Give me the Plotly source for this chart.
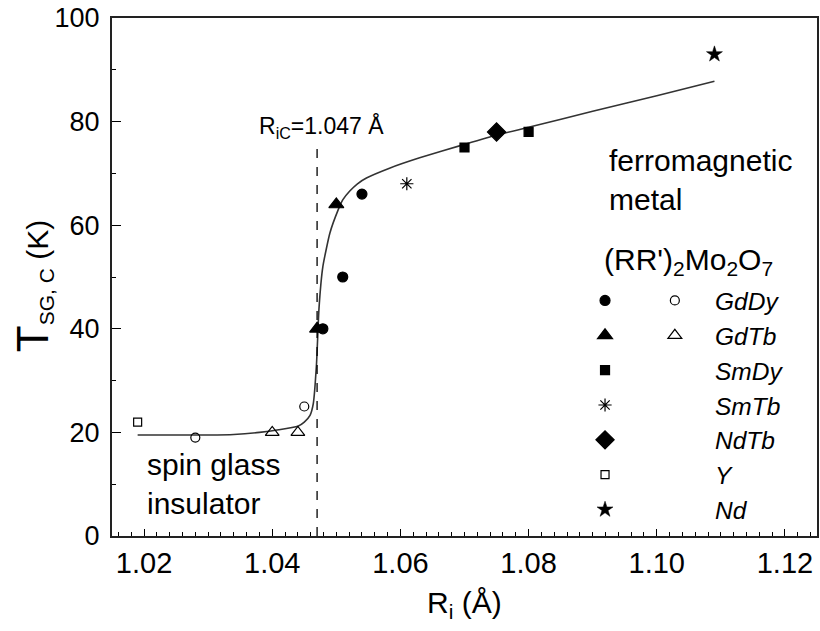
import plotly.graph_objects as go

# ---- data ----
gddy_fill_x = [1.0479, 1.051, 1.054]
gddy_fill_y = [40, 50, 66]
gddy_open_x = [1.028, 1.045]
gddy_open_y = [19, 25]
gdtb_fill_x = [1.047, 1.050]
gdtb_fill_y = [40, 64]
gdtb_open_x = [1.040, 1.044]
gdtb_open_y = [20, 20]
smdy_x = [1.070, 1.080]
smdy_y = [75, 78]
smtb_x = [1.061]
smtb_y = [68]
ndtb_x = [1.075]
ndtb_y = [78]
y_x = [1.019]
y_y = [22]
nd_x = [1.109]
nd_y = [93]

# guide-to-the-eye curve
fit_x = [1.019, 1.025, 1.030, 1.034, 1.038, 1.041, 1.044, 1.045, 1.0459, 1.0464,
         1.0469, 1.0473, 1.0479, 1.049, 1.0503, 1.0510, 1.0521, 1.0533, 1.0547,
         1.0583, 1.063, 1.070, 1.075, 1.080, 1.090, 1.100, 1.109]
fit_y = [19.5, 19.5, 19.5, 19.6, 20.0, 20.5, 21.2, 22.0, 23.3, 25.5,
         33, 44, 52, 58.5, 63, 64.9, 66.6, 68.0, 69.1,
         71.0, 73.0, 75.6, 77.4, 78.9, 82.0, 85.0, 87.8]

R_IC = 1.047
R_IC_TOP = 75

FONT = "Liberation Sans, Arial, sans-serif"


def sz(text, px):
    return "<span style='font-size:%dpx'>%s</span>" % (px, text)


fig = go.Figure()

fig.add_trace(go.Scatter(x=fit_x, y=fit_y, mode="lines",
                         line=dict(color="#333333", width=1.6, shape="spline", smoothing=0.5),
                         showlegend=False, hoverinfo="skip"))


def pts(x, y, name, symbol, size, legend="legend", lw=1.2):
    fig.add_trace(go.Scatter(x=x, y=y, mode="markers", name=name, legend=legend,
                             marker=dict(symbol=symbol, size=size, color="black",
                                         line=dict(color="black", width=lw))))


# first legend column: filled symbols with the compound names
pts(gddy_fill_x, gddy_fill_y, "GdDy", "circle", 10)
pts(gdtb_fill_x, gdtb_fill_y, "GdTb", "triangle-up", 13)
pts(smdy_x, smdy_y, "SmDy", "square", 9)
pts(smtb_x, smtb_y, "SmTb", "asterisk-open", 11)
pts(ndtb_x, ndtb_y, "NdTb", "diamond", 14)
pts(y_x, y_y, "Y", "square-open", 8)
pts(nd_x, nd_y, "Nd", "star", 12, lw=0.5)
# second legend column: open symbols of GdDy and GdTb
pts(gddy_open_x, gddy_open_y, "&nbsp;", "circle-open", 9, legend="legend2")
pts(gdtb_open_x, gdtb_open_y, "&nbsp;", "triangle-up-open", 12, legend="legend2")

fig.add_shape(type="line", xref="x", yref="y", x0=R_IC, x1=R_IC, y0=0, y1=R_IC_TOP,
              line=dict(color="black", width=1.3, dash="dash"))

ann = []
ann.append(dict(x=1.0477, y=79, xref="x", yref="y", showarrow=False, xanchor="center", yanchor="middle",
                text=sz("R", 23) + "<sub>iC</sub>" + sz("=1.047 Å", 23), font=dict(size=23)))
ann.append(dict(x=1.0922, y=68.7, xref="x", yref="y", showarrow=False, xanchor="left", yanchor="middle", align="left",
                text=sz("ferromagnetic", 30) + "<br>" + sz("metal", 30), font=dict(size=30)))
ann.append(dict(x=1.0914, y=52.9, xref="x", yref="y", showarrow=False, xanchor="left", yanchor="middle",
                text=sz("(RR')", 30) + "<sub>2</sub>" + sz("Mo", 30) + "<sub>2</sub>" + sz("O", 30) + "<sub>7</sub>",
                font=dict(size=30)))
ann.append(dict(x=1.0201, y=10.0, xref="x", yref="y", showarrow=False, xanchor="left", yanchor="middle", align="left",
                text=sz("spin glass", 30) + "<br>" + sz("insulator", 30), font=dict(size=30)))
ann.append(dict(x=-0.113, y=0.483, xref="paper", yref="paper", showarrow=False, textangle=-90,
                xanchor="center", yanchor="middle",
                text=sz("T", 44) + "<sub>SG, C</sub>" + sz(" (K)", 30), font=dict(size=30)))
ann.append(dict(x=0.5, y=-0.133, xref="paper", yref="paper", showarrow=False,
                xanchor="center", yanchor="middle",
                text=sz("R", 30) + "<sub>i</sub>" + sz(" (Å)", 30), font=dict(size=30)))

legend_font = dict(family=FONT, size=24.5, color="black", style="italic")

fig.update_layout(
    width=820, height=631,
    margin=dict(l=112, r=3, t=18, b=95, autoexpand=False),
    paper_bgcolor="white", plot_bgcolor="white",
    font=dict(family=FONT, color="black", size=29),
    annotations=ann,
    showlegend=True,
    hovermode=False,
    legend=dict(x=0.5433, y=0.498, xanchor="left", yanchor="top", bgcolor="rgba(0,0,0,0)",
                borderwidth=0, itemwidth=210, font=legend_font, traceorder="normal",
                itemclick=False, itemdoubleclick=False),
    legend2=dict(x=0.770, y=0.498, xanchor="left", yanchor="top", bgcolor="rgba(0,0,0,0)",
                 borderwidth=0, itemwidth=30, font=legend_font, traceorder="normal",
                 itemclick=False, itemdoubleclick=False),
)

fig.update_xaxes(
    range=[1.015, 1.125], tickvals=[1.02, 1.04, 1.06, 1.08, 1.10, 1.12],
    ticktext=["1.02", "1.04", "1.06", "1.08", "1.10", "1.12"],
    ticks="inside", ticklen=7, tickwidth=1.3, tickcolor="black",
    minor=dict(ticks="inside", ticklen=4, dtick=0.002, tick0=1.0, tickcolor="black", tickwidth=1),
    showline=True, linecolor="#222222", linewidth=2, mirror=True, showgrid=False, zeroline=False,
    tickfont=dict(size=29), automargin=False, ticklabeloverflow="allow",
)
fig.update_yaxes(
    range=[0, 100], tickvals=[0, 20, 40, 60, 80, 100],
    ticks="inside", ticklen=9, tickwidth=1.3, tickcolor="black",
    minor=dict(ticks="inside", ticklen=4, dtick=10, tickcolor="black", tickwidth=1),
    showline=True, linecolor="#222222", linewidth=2, mirror=True, showgrid=False, zeroline=False,
    tickfont=dict(size=27), automargin=False, ticklabelstandoff=5, ticklabeloverflow="allow",
)

# remove the browser's default 8px page margin so the figure sits at the window origin
fig.write_html("out.html", config={"displayModeBar": False},
               post_script="document.body.style.margin='0';")
